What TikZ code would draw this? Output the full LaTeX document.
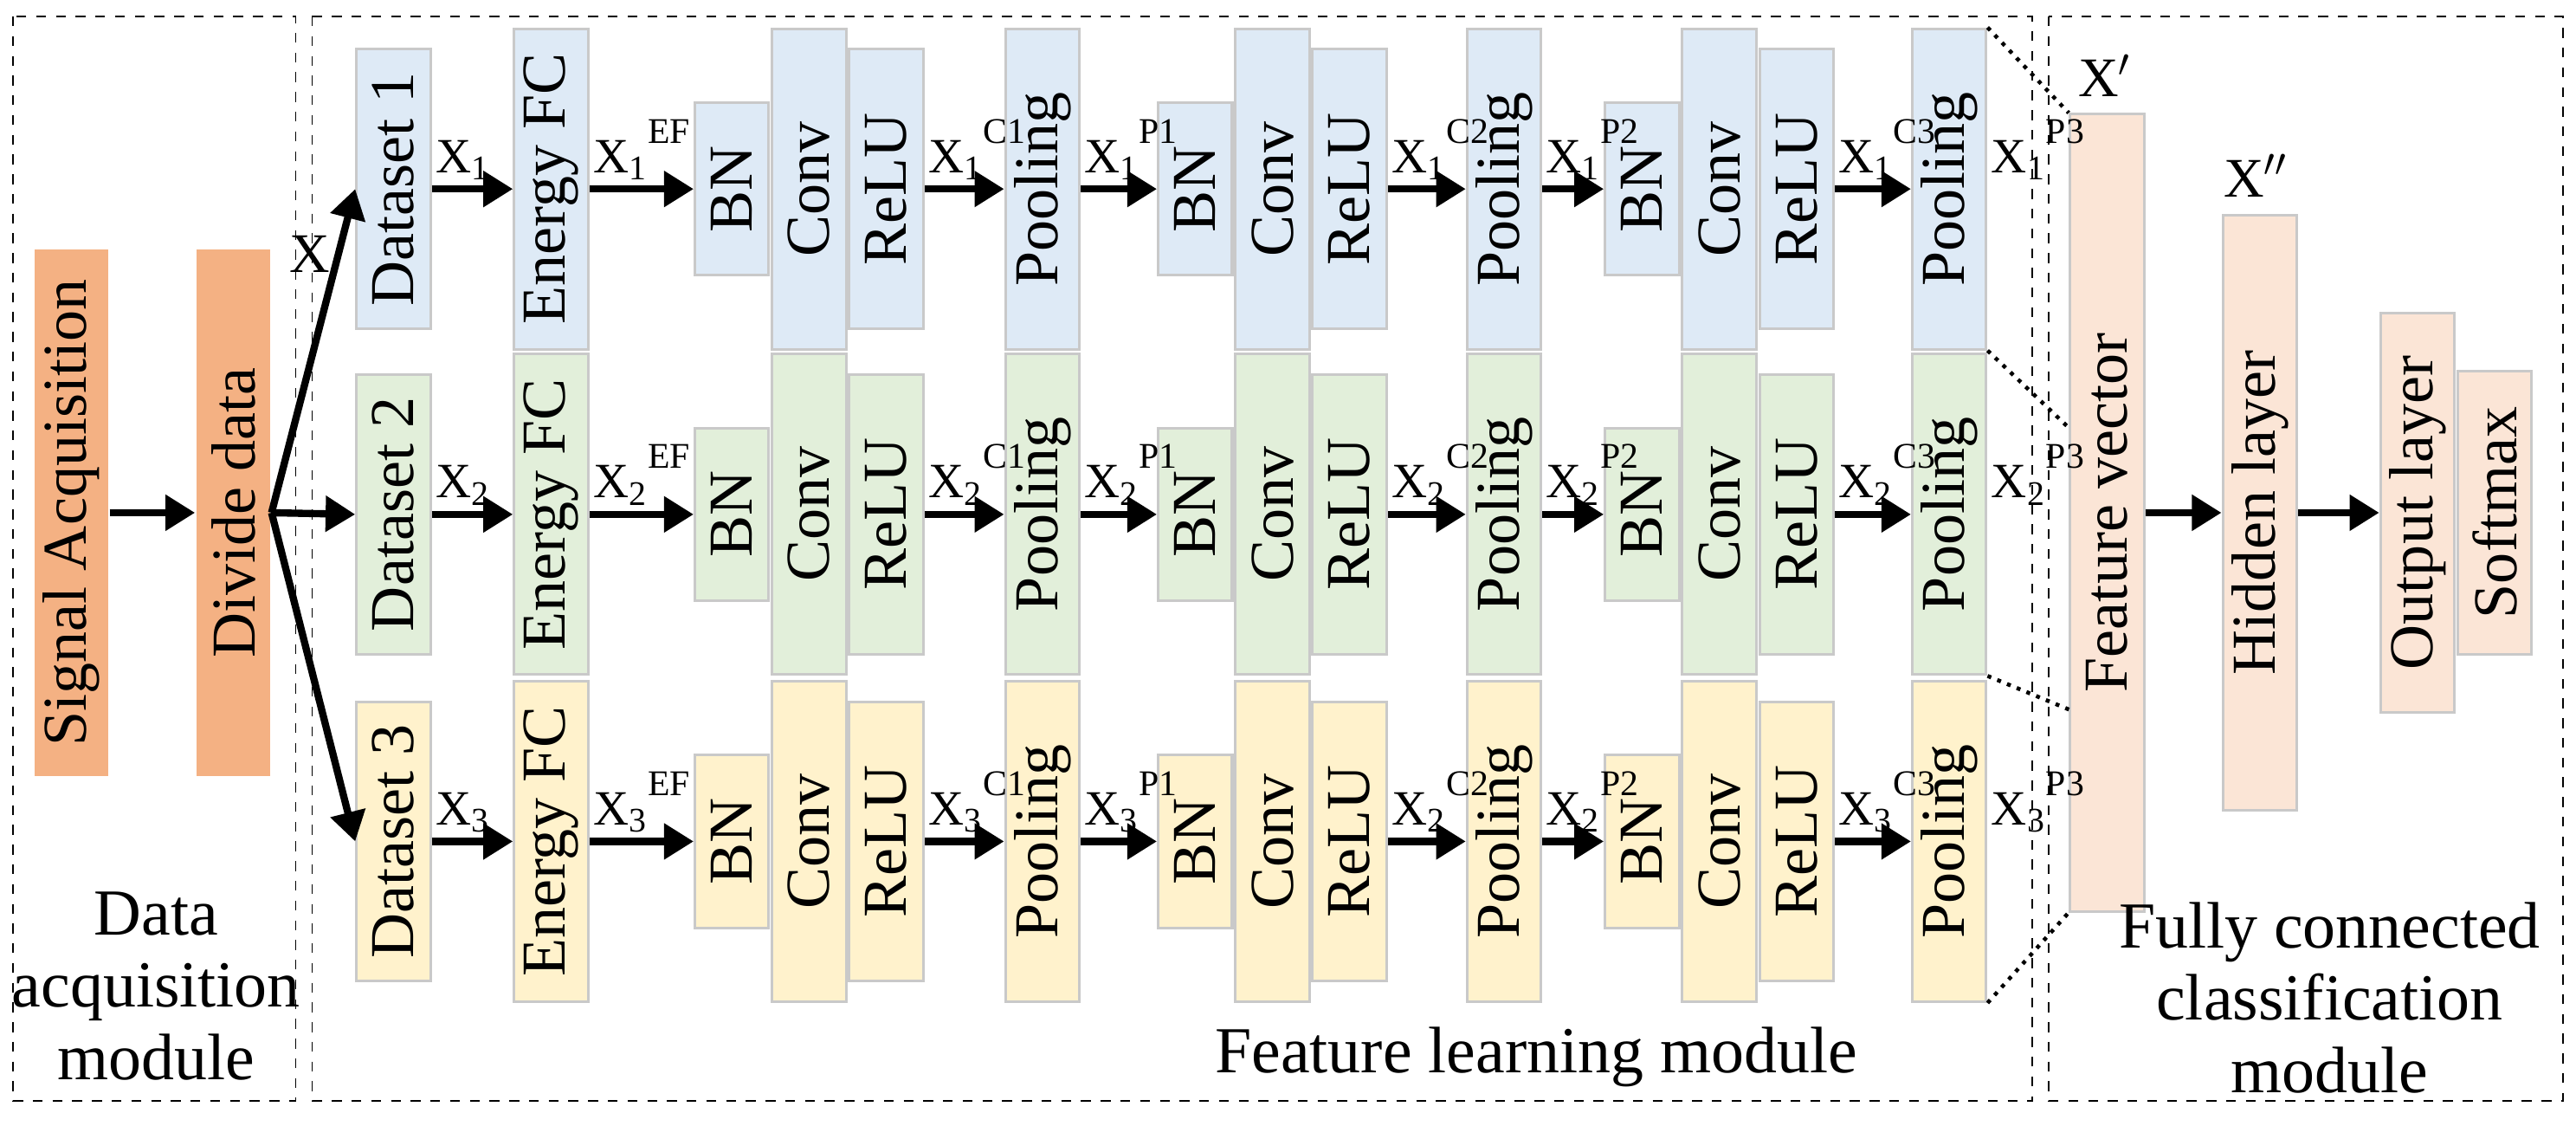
\documentclass[tikz,border=0pt]{standalone}
\usepackage{fontspec}
\setmainfont{Liberation Serif}
\usetikzlibrary{arrows.meta}
\definecolor{bl}{HTML}{DEEAF6}
\definecolor{gr}{HTML}{E2EFDA}
\definecolor{ye}{HTML}{FFF2CC}
\definecolor{or}{HTML}{F4B183}
\definecolor{pe}{HTML}{FBE5D6}
\definecolor{bd}{HTML}{C9C9C9}
\begin{document}
\begin{tikzpicture}[x=0.5pt,y=-0.5pt,
  b/.style={draw=bd, line width=0.8pt, rotate=90, inner sep=0pt, minimum height=22.5pt, font=\fontsize{19}{20}\selectfont},
  tall/.style={minimum width=97.5pt},
  mid/.style={minimum width=85pt},
  short/.style={minimum width=52.5pt},
  arr/.style={line width=2.2pt, -{Triangle[length=9pt,width=10.5pt]}},
  lab/.style={inner sep=0pt, anchor=base west, font=\fontsize{15}{16}\selectfont},
  dbox/.style={draw, dashed, line width=0.5pt},
  dt/.style={dotted, line width=1.2pt},
  mod/.style={align=center, font=\fontsize{20}{22}\selectfont, inner sep=0pt}]
\useasboundingbox (0,0) rectangle (1568,685);
\newcommand{\lb}[3]{\node[lab] at ([xshift=1pt,yshift=5pt]#1.south) {X\textsubscript{#2}\raisebox{1.3ex}{\fontsize{11}{11}\selectfont #3}};}
% module frames
\draw[dbox] (8,10) rectangle (180,670);
\draw[dbox] (190,10) rectangle (1237,670);
\draw[dbox] (1247,10) rectangle (1560,670);
% acquisition
\node[b, minimum width=160pt, fill=or, draw=none] (sig) at (43.5,312) {Signal Acquisition};
\node[b, minimum width=160pt, fill=or, draw=none] (div) at (142,312) {Divide data};
\draw[arr] (sig.south) -- (div.north);
% rows
\foreach \r/\col/\yy in {1/bl/115, 2/gr/313, 3/ye/512}{
  \foreach \c/\xl/\ty/\txt in {1/217/mid/Dataset \r, 2/313/tall/Energy FC, 3/423/short/BN, 4/470/tall/Conv, 5/517/mid/ReLU, 6/612/tall/Pooling, 7/705/short/BN, 8/752/tall/Conv, 9/799/mid/ReLU, 10/893/tall/Pooling, 11/977/short/BN, 12/1024/tall/Conv, 13/1071/mid/ReLU, 14/1164/tall/Pooling}{
    \node[b,\ty,fill=\col] (n\r-\c) at (\xl+22.5,\yy) {\txt};
  }
  \foreach \a/\bb in {1/2,2/3,5/6,6/7,9/10,10/11,13/14}{
    \draw[arr] (n\r-\a.south) -- (n\r-\bb.north);
  }
  \draw[arr] (div.south) -- (n\r-1.north);
}
\node[lab, font=\fontsize{17}{18}\selectfont] (xl) at (176,166) {X};
% classification
\node[b, minimum width=242.5pt, fill=pe] (fv) at (1282.5,312) {Feature vector};
\node[b, minimum width=181pt, fill=pe] (hl) at (1375.5,312) {Hidden layer};
\node[b, minimum width=121.5pt, fill=pe] (ol) at (1471.5,312) {Output layer};
\node[b, minimum width=86pt, fill=pe] (sm) at (1518.5,312) {Softmax};
\draw[arr] (fv.south) -- (hl.north);
\draw[arr] (hl.south) -- (ol.north);
\node[font=\fontsize{17}{18}\selectfont] (xp) at (1281,46) {X$'$};
\node[font=\fontsize{17}{18}\selectfont] (xpp) at (1373,107) {X$''$};
% labels
\lb{n1-1}{1}{} \lb{n1-2}{1}{EF} \lb{n1-5}{1}{C1} \lb{n1-6}{1}{P1} \lb{n1-9}{1}{C2} \lb{n1-10}{1}{P2} \lb{n1-13}{1}{C3} \lb{n1-14}{1}{P3}
\lb{n2-1}{2}{} \lb{n2-2}{2}{EF} \lb{n2-5}{2}{C1} \lb{n2-6}{2}{P1} \lb{n2-9}{2}{C2} \lb{n2-10}{2}{P2} \lb{n2-13}{2}{C3} \lb{n2-14}{2}{P3}
\lb{n3-1}{3}{} \lb{n3-2}{3}{EF} \lb{n3-5}{3}{C1} \lb{n3-6}{3}{P1} \lb{n3-9}{2}{C2} \lb{n3-10}{2}{P2} \lb{n3-13}{3}{C3} \lb{n3-14}{3}{P3}
% dotted connectors
\coordinate (fa) at (1260,261);
\coordinate (fb) at (1260,432);
\draw[dt] (n1-14.south east) -- (fv.north east);
\draw[dt] (n1-14.south west) -- (fa);
\draw[dt] (n2-14.south west) -- (fb);
\draw[dt] (n3-14.south west) -- (fv.north west);
% module titles
\node[mod] (m1) at (95,600) {Data\\acquisition\\module};
\node[mod] (m2) at (935,643) {Feature learning module};
\node[mod] (m3) at (1418,607) {Fully connected\\classification\\module};
\end{tikzpicture}
\end{document}
